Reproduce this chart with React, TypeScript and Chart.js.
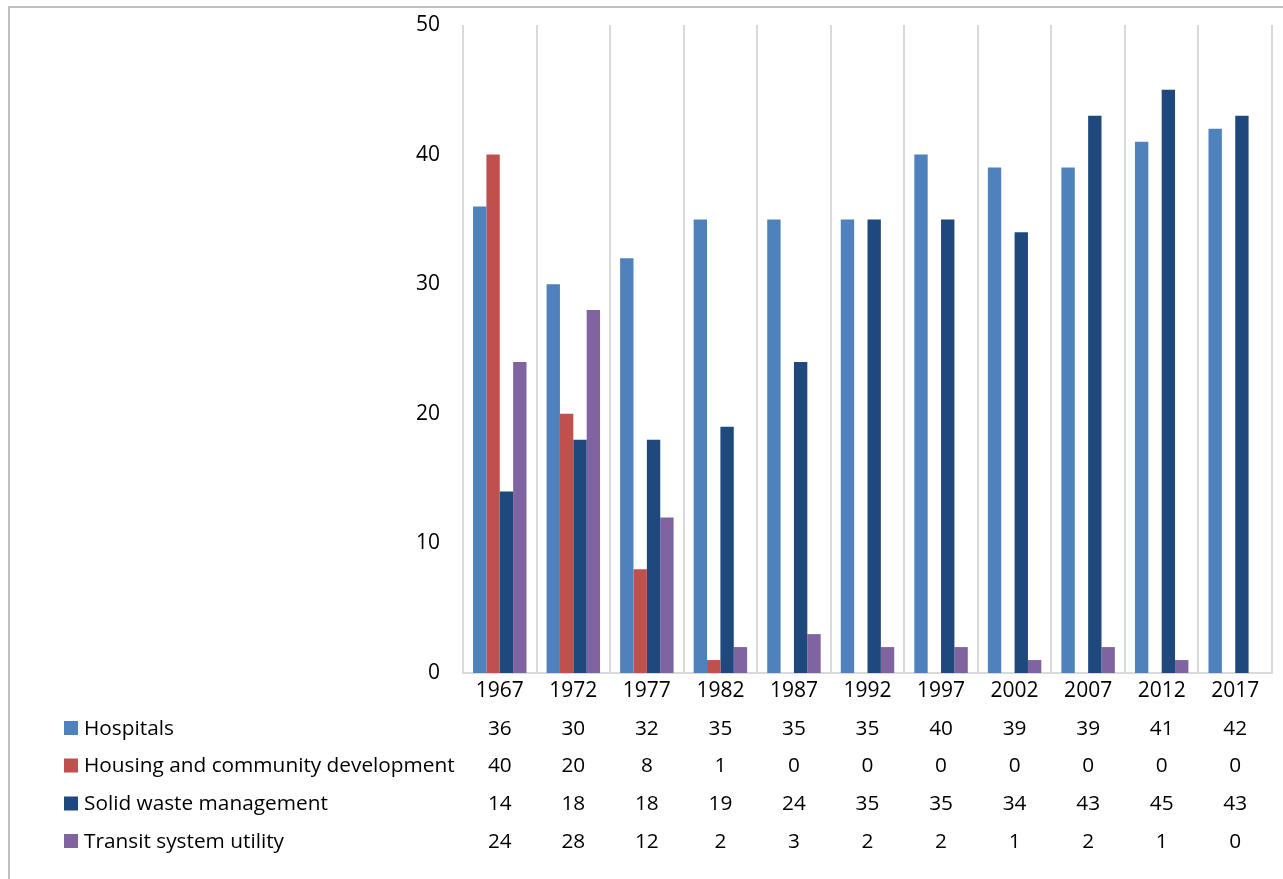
import React, { useEffect, useRef } from 'react';
import { Chart, registerables } from 'chart.js';

Chart.register(...registerables);

const years = ['1967', '1972', '1977', '1982', '1987', '1992', '1997', '2002', '2007', '2012', '2017'];
const hospitals = [36, 30, 32, 35, 35, 35, 40, 39, 39, 41, 42];
const housing = [40, 20, 8, 1, 0, 0, 0, 0, 0, 0, 0];
const solidWaste = [14, 18, 18, 19, 24, 35, 35, 34, 43, 45, 43];
const transit = [24, 28, 12, 2, 3, 2, 2, 1, 2, 1, 0];
const seriesNames = ['Hospitals', 'Housing and community development', 'Solid waste management', 'Transit system utility'];
const seriesColors = ['#4f81bd', '#c0504d', '#1f497d', '#8064a2'];
const yMin = 0;
const yMax = 50;
const yStep = 10;

const FONT = '"Open Sans", "Noto Sans", sans-serif';

const dataTablePlugin = {
  id: 'dataTable',
  afterDraw(chart: any) {
    const ctx = chart.ctx;
    const xs = chart.scales.x;
    const base = chart.chartArea.bottom;
    const rowOffsets = [56, 93.5, 131.5, 169];
    ctx.save();
    ctx.font = `20.8px ${FONT}`;
    ctx.textBaseline = 'middle';
    chart.data.datasets.forEach((ds: any, r: number) => {
      const y = base + rowOffsets[r];
      ctx.fillStyle = ds.backgroundColor;
      ctx.fillRect(54, y - 8, 14, 14);
      ctx.fillStyle = '#000';
      ctx.textAlign = 'left';
      ctx.fillText(ds.label, 74, y);
      ctx.textAlign = 'center';
      ds.data.forEach((v: number, i: number) => {
        ctx.fillText(String(v), xs.getPixelForValue(i), y);
      });
    });
    ctx.restore();
  },
};

export default function App() {
  const ref = useRef<HTMLCanvasElement>(null);
  useEffect(() => {
    if (!ref.current) return;
    const seriesData = [hospitals, housing, solidWaste, transit];
    const chart = new Chart(ref.current, {
      type: 'bar',
      data: {
        labels: years,
        datasets: seriesData.map((d, i) => ({
          label: seriesNames[i],
          data: d,
          backgroundColor: seriesColors[i],
          borderWidth: 0,
          barPercentage: 1,
          categoryPercentage: 0.727,
        })),
      },
      options: {
        animation: false,
        responsive: false,
        maintainAspectRatio: false,
        layout: { padding: { top: 17, right: 11, bottom: 0, left: 0 } },
        plugins: {
          legend: { display: false },
          tooltip: { enabled: false },
        },
        scales: {
          x: {
            grid: { display: true, offset: true, color: '#d9d9d9', lineWidth: 2, drawTicks: false },
            border: { display: true, color: '#d9d9d9', width: 2 },
            ticks: { color: '#000', font: { family: FONT, size: 21 }, padding: 5, maxRotation: 0 },
            afterFit(scale: any) {
              scale.height = 206;
            },
          },
          y: {
            min: yMin,
            max: yMax,
            grid: { display: false, drawTicks: false },
            border: { display: false },
            ticks: { stepSize: yStep, color: '#000', font: { family: FONT, size: 21 }, padding: 23 },
            afterFit(scale: any) {
              scale.width = 453;
              scale.paddingTop = 0;
              scale.paddingBottom = 0;
            },
          },
        },
      },
      plugins: [dataTablePlugin],
    });
    return () => chart.destroy();
  }, []);
  return (
    <div
      style={{
        position: 'absolute',
        left: 8,
        top: 6,
        width: 1275,
        height: 873,
        borderTop: '2px solid #bfbfbf',
        borderLeft: '2px solid #bfbfbf',
        boxSizing: 'border-box',
        background: '#fff',
      }}
    >
      <canvas ref={ref} width={1273} height={871} style={{ display: 'block', width: 1273, height: 871 }} />
    </div>
  );
}
